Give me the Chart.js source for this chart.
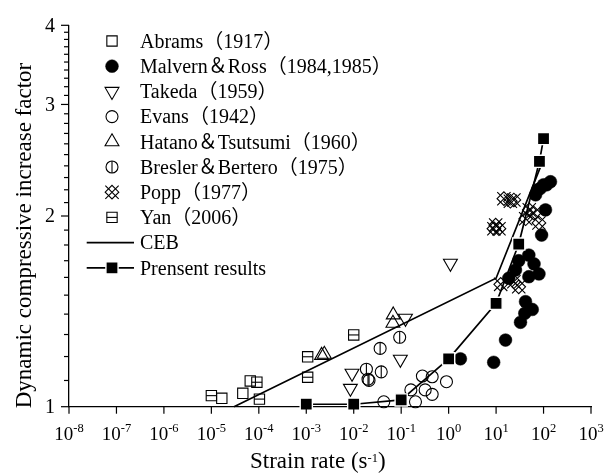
<!DOCTYPE html>
<html>
<head>
<meta charset="utf-8">
<script src="https://cdn.jsdelivr.net/npm/chart.js@4.4.1/dist/chart.umd.min.js"></script>
<style>
  html, body { margin: 0; padding: 0; background: #fff; }
  canvas { display: block; }
</style>
</head>
<body>
<canvas id="c" width="604" height="473"></canvas>
<script>
// Strain rate (s^-1) and dynamic compressive increase factor for each test series
const abramsRate = [1.66e-5, 4.6e-5, 6.6e-5];
const abramsDIF  = [1.031, 1.05, 1.098];

const malvernRate = [1.77, 8.9, 15.8, 32.7, 40.3, 41.7, 57.8, 18.5, 25.6, 30, 49, 49, 63, 80, 91, 110, 68, 75, 85, 100, 116, 140];
const malvernDIF  = [1.19, 1.175, 1.274, 1.359, 1.404, 1.465, 1.424, 1.595, 1.643, 1.70, 1.604, 1.735, 1.68, 1.62, 1.866, 2.045, 2.16, 2.20, 2.21, 2.24, 2.24, 2.265];

const takedaRate = [0.0085, 0.0092, 0.096, 0.123, 1.09];
const takedaDIF  = [1.069, 1.129, 1.188, 1.379, 1.684];

const evansRate = [0.043, 0.16, 0.2, 0.28, 0.45, 0.32, 0.45, 0.9];
const evansDIF  = [1.018, 1.063, 1.018, 1.118, 1.115, 1.063, 1.046, 1.095];

const hatanoRate = [0.0021, 0.0024, 0.068, 0.067];
const hatanoDIF  = [1.205, 1.21, 1.396, 1.354];

const breslerRate = [0.0185, 0.020, 0.021, 0.038, 0.036, 0.093];
const breslerDIF  = [1.146, 1.105, 1.10, 1.135, 1.236, 1.287];

const poppRate = [14.6, 20, 23.7, 9.0, 9.8, 11.5, 42, 50, 63, 80, 12.5, 23.7, 30];
const poppDIF  = [2.13, 2.11, 2.12, 1.91, 1.935, 1.91, 1.98, 2.045, 2.02, 1.95, 1.56, 1.575, 1.546];

const yanRate = [1.0e-5, 9.1e-5, 1.03e-4, 1.07e-3, 1.07e-3, 1.0e-2];
const yanDIF  = [1.041, 1.093, 1.028, 1.199, 1.113, 1.298];

const cebRate = [3e-5, 10, 85];
const cebDIF  = [1.0, 1.595, 2.385];

const presentRate = [1e-3, 1e-2, 1e-1, 1, 10, 30, 82, 100];
const presentDIF  = [1.009, 1.009, 1.025, 1.19, 1.456, 1.806, 2.44, 2.65];

// Axis tick values
const xExponents = [-8, -7, -6, -5, -4, -3, -2, -1, 0, 1, 2, 3];
const yMajorTicks = [1, 2, 3, 4];

const legendLabels = [
  'Abrams（1917）',
  'Malvern＆Ross（1984,1985）',
  'Takeda（1959）',
  'Evans（1942）',
  'Hatano＆Tsutsumi（1960）',
  'Bresler＆Bertero（1975）',
  'Popp（1977）',
  'Yan（2006）',
  'CEB',
  'Prensent results'
];

const pts = (xs, ys) => xs.map((x, i) => ({ x: x, y: ys[i] }));

// open symbols: outline only, no fill
function openMarks(row, xs, ys, style, radius, rotation) {
  return {
    legendRow: row, data: pts(xs, ys), pointStyle: style, pointRadius: radius,
    pointRotation: rotation || 0, pointBackgroundColor: 'rgba(0,0,0,0)',
    pointBorderColor: '#000', pointBorderWidth: 1.1, clip: false
  };
}

const datasets = [
  { legendRow: 9, data: pts(presentRate, presentDIF), showLine: true, tension: 0,
    borderColor: '#000', borderWidth: 1.7, pointStyle: 'rect', pointRadius: 8.6,
    pointBackgroundColor: '#000', pointBorderColor: '#fff', pointBorderWidth: 1.4, clip: false },
  { legendRow: 8, data: pts(cebRate, cebDIF), showLine: true, tension: 0,
    borderColor: '#000', borderWidth: 1.7, pointRadius: 0, clip: false },
  { legendRow: 1, data: pts(malvernRate, malvernDIF), pointStyle: 'circle', pointRadius: 6.4,
    pointBackgroundColor: '#000', pointBorderColor: '#000', pointBorderWidth: 0.5, clip: false },
  openMarks(0, abramsRate, abramsDIF, 'rect', 7.3),
  openMarks(2, takedaRate, takedaDIF, 'triangle', 8, 180),
  openMarks(3, evansRate, evansDIF, 'circle', 6),
  openMarks(4, hatanoRate, hatanoDIF, 'triangle', 8),
  // circle with a vertical bar
  openMarks(5, breslerRate, breslerDIF, 'circle', 6),
  openMarks(5, breslerRate, breslerDIF, 'line', 6, 90),
  // diamond with a diagonal cross
  openMarks(6, poppRate, poppDIF, 'rectRot', 6.8),
  openMarks(6, poppRate, poppDIF, 'crossRot', 9.4),
  // square with a horizontal bar
  openMarks(7, yanRate, yanDIF, 'rect', 7.3),
  openMarks(7, yanRate, yanDIF, 'line', 5.2)
];

const SERIF = '"Liberation Serif", "Times New Roman", "Noto Sans CJK SC", serif';

// Ticks, tick labels, axis titles and the legend box
const decorations = {
  id: 'decorations',
  afterDraw(chart) {
    const ctx = chart.ctx;
    const xs = chart.scales.x, ys = chart.scales.y;
    const area = chart.chartArea;
    ctx.save();
    ctx.strokeStyle = '#000';
    ctx.fillStyle = '#000';
    ctx.lineWidth = 1.2;

    // y ticks: minor every 0.1, major at integers
    for (let k = 10; k <= 40; k++) {
      const py = ys.getPixelForValue(k / 10);
      const len = k % 10 === 0 ? 8 : 5;
      ctx.beginPath(); ctx.moveTo(area.left - len, py); ctx.lineTo(area.left, py); ctx.stroke();
    }
    ctx.font = '20px ' + SERIF;
    ctx.textAlign = 'right';
    ctx.textBaseline = 'middle';
    yMajorTicks.forEach(v => ctx.fillText(String(v), 55, ys.getPixelForValue(v) + 1));

    // x ticks and 10^n labels
    ctx.textAlign = 'left';
    ctx.textBaseline = 'alphabetic';
    xExponents.forEach(e => {
      const px = xs.getPixelForValue(Math.pow(10, e));
      ctx.beginPath(); ctx.moveTo(px, area.bottom); ctx.lineTo(px, area.bottom + 7); ctx.stroke();
      const exp = String(e);
      ctx.font = '19px ' + SERIF;
      const wb = ctx.measureText('10').width;
      ctx.font = '12.5px ' + SERIF;
      const we = ctx.measureText(exp).width;
      const x0 = px - (wb + we) / 2;
      ctx.font = '19px ' + SERIF;
      ctx.fillText('10', x0, 440);
      ctx.font = '12.5px ' + SERIF;
      ctx.fillText(exp, x0 + wb, 432);
    });

    // x title
    ctx.font = '23px ' + SERIF;
    const t1 = 'Strain rate (s';
    const w1 = ctx.measureText(t1).width;
    ctx.fillText(t1, 250, 468.3);
    ctx.font = '12.5px ' + SERIF;
    const w2 = ctx.measureText('-1').width;
    ctx.fillText('-1', 250 + w1, 461.5);
    ctx.font = '23px ' + SERIF;
    ctx.fillText(')', 250 + w1 + w2, 468.3);

    // y title
    ctx.save();
    ctx.translate(30.5, 235.5);
    ctx.rotate(-Math.PI / 2);
    ctx.textAlign = 'center';
    ctx.fillText('Dynamic compressive increase factor', 0, 0);
    ctx.restore();

    // legend
    const mx = 112, tx = 140, y0 = 41, dy = 25.2;
    ctx.font = '20px ' + SERIF;
    ctx.textAlign = 'left';
    legendLabels.forEach((label, row) => {
      const cy = y0 + row * dy;
      datasets.filter(ds => ds.legendRow === row).forEach(ds => {
        if (ds.showLine) {
          ctx.strokeStyle = ds.borderColor;
          ctx.lineWidth = ds.borderWidth;
          ctx.beginPath(); ctx.moveTo(86.7, cy); ctx.lineTo(134, cy); ctx.stroke();
        }
        if (ds.pointRadius > 0) {
          ctx.fillStyle = ds.pointBackgroundColor;
          ctx.strokeStyle = ds.pointBorderColor;
          ctx.lineWidth = ds.pointBorderWidth;
          Chart.helpers.drawPoint(ctx, {
            pointStyle: ds.pointStyle, radius: ds.pointRadius,
            rotation: ds.pointRotation || 0, borderWidth: ds.pointBorderWidth
          }, mx, cy);
        }
      });
      ctx.fillStyle = '#000';
      ctx.fillText(label, tx, cy + 6.8);
    });
    ctx.restore();
  }
};

new Chart(document.getElementById('c'), {
  type: 'scatter',
  data: { datasets: datasets },
  options: {
    responsive: false,
    animation: false,
    events: [],
    devicePixelRatio: 1,
    layout: { padding: { top: 25.3, right: 13, left: 0, bottom: 0 } },
    plugins: { legend: { display: false }, tooltip: { enabled: false } },
    scales: {
      x: {
        type: 'logarithmic', min: 1e-8, max: 1e3,
        grid: { display: false, drawTicks: false },
        border: { display: true, color: '#000', width: 1.3 },
        ticks: { display: false },
        afterFit(s) { s.height = 66.3; }
      },
      y: {
        type: 'logarithmic', min: 1, max: 4,
        grid: { display: false, drawTicks: false },
        border: { display: true, color: '#000', width: 1.3 },
        ticks: { display: false },
        afterFit(s) { s.width = 69; }
      }
    }
  },
  plugins: [decorations]
});
</script>
</body>
</html>
